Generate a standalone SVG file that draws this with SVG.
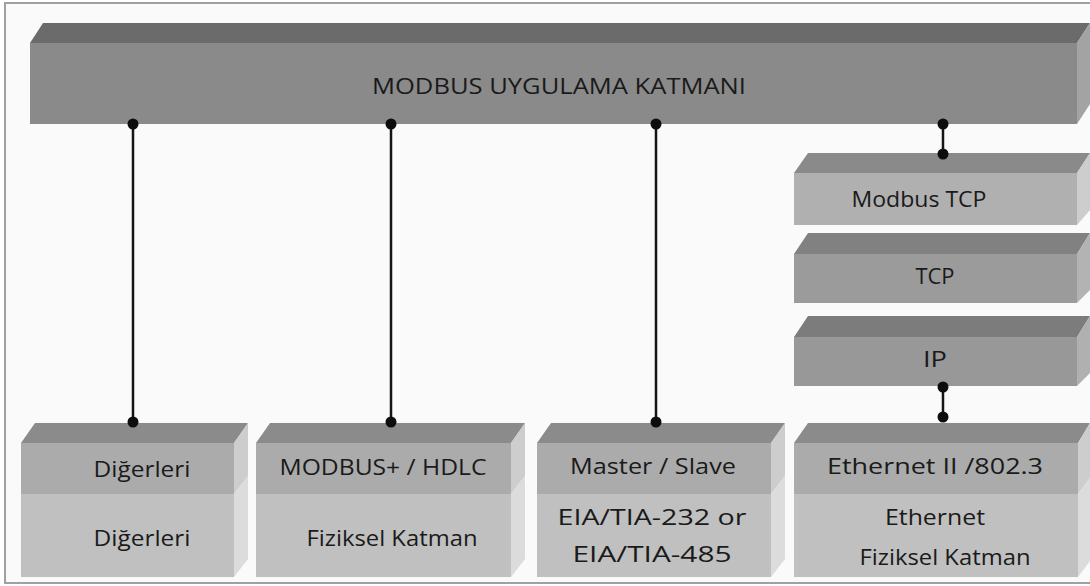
<svg xmlns="http://www.w3.org/2000/svg" width="1090" height="586" viewBox="0 0 1090 586">
  <style>
    .lbl { font-family: "Open Sans", "DejaVu Sans", sans-serif; font-size: 21px; fill: #1a1a1a; }
    .big { font-size: 22px; }
    .wire { stroke: #151515; stroke-width: 2.5; fill: none; }
    .dot { fill: #0d0d0d; }
    .bt { fill: #8b8b8b; }
    .bf1 { fill: #ababab; }
    .bf2 { fill: #c0c0c0; }
    .bs1 { fill: #cdcdcd; }
    .bs2 { fill: #dcdcdc; }
  </style>

  <!-- canvas and frame -->
  <rect x="0" y="0" width="1090" height="586" fill="#ffffff"/>
  <rect x="5" y="3" width="1095" height="580" fill="#fafafa" stroke="#a0a0a0" stroke-width="2"/>

  <!-- application layer bar -->
  <g id="app-layer">
    <polygon points="30,43 43,23 1090,23 1077,43" fill="#6b6b6b"/>
    <polygon points="1077,43 1090,23 1090,104 1077,124" fill="#a3a3a3"/>
    <rect x="30" y="43" width="1047" height="81" fill="#8a8a8a"/>
    <text class="lbl big" x="559" y="94" text-anchor="middle" textLength="374" lengthAdjust="spacingAndGlyphs">MODBUS UYGULAMA KATMANI</text>
  </g>

  <!-- TCP/IP stack -->
  <g id="modbus-tcp">
    <polygon points="794,173 808,153 1090,153 1077,173" fill="#8a8a8a"/>
    <polygon points="1077,173 1090,153 1090,210 1077,225" fill="#cdcdcd"/>
    <rect x="794" y="173" width="283" height="52" fill="#b0b0b0"/>
    <text class="lbl" x="919" y="207" text-anchor="middle" textLength="135" lengthAdjust="spacingAndGlyphs">Modbus TCP</text>
  </g>
  <g id="tcp">
    <polygon points="794,254 808,233 1090,233 1077,254" fill="#818181"/>
    <polygon points="1077,254 1090,233 1090,290 1077,303" fill="#b3b3b3"/>
    <rect x="794" y="254" width="283" height="49" fill="#9b9b9b"/>
    <text class="lbl" x="935" y="284" text-anchor="middle" textLength="39" lengthAdjust="spacingAndGlyphs">TCP</text>
  </g>
  <g id="ip">
    <polygon points="794,337 808,316 1090,316 1077,337" fill="#7c7c7c"/>
    <polygon points="1077,337 1090,316 1090,373 1077,386" fill="#b0b0b0"/>
    <rect x="794" y="337" width="283" height="49" fill="#989898"/>
    <text class="lbl" x="935" y="367" text-anchor="middle" textLength="24" lengthAdjust="spacingAndGlyphs">IP</text>
  </g>

  <!-- bottom protocol blocks -->
  <g id="others">
    <polygon class="bt" points="21,443 35,423 248,423 234,443"/>
    <polygon class="bs1" points="234,443 248,423 248,476 234,494"/>
    <polygon class="bs2" points="234,494 248,476 248,559 234,577"/>
    <rect class="bf1" x="21" y="443" width="213" height="51"/>
    <rect class="bf2" x="21" y="494" width="213" height="83"/>
    <text class="lbl" x="142" y="477" text-anchor="middle" textLength="97" lengthAdjust="spacingAndGlyphs">Diğerleri</text>
    <text class="lbl" x="142" y="546" text-anchor="middle" textLength="97" lengthAdjust="spacingAndGlyphs">Diğerleri</text>
  </g>
  <g id="modbus-plus">
    <polygon class="bt" points="256,443 270,423 525,423 511,443"/>
    <polygon class="bs1" points="511,443 525,423 525,476 511,494"/>
    <polygon class="bs2" points="511,494 525,476 525,559 511,577"/>
    <rect class="bf1" x="256" y="443" width="255" height="51"/>
    <rect class="bf2" x="256" y="494" width="255" height="83"/>
    <text class="lbl" x="383" y="475" text-anchor="middle" textLength="207" lengthAdjust="spacingAndGlyphs">MODBUS+ / HDLC</text>
    <text class="lbl" x="392" y="546" text-anchor="middle" textLength="171" lengthAdjust="spacingAndGlyphs">Fiziksel Katman</text>
  </g>
  <g id="serial">
    <polygon class="bt" points="537,443 551,423 785,423 771,443"/>
    <polygon class="bs1" points="771,443 785,423 785,476 771,494"/>
    <polygon class="bs2" points="771,494 785,476 785,559 771,577"/>
    <rect class="bf1" x="537" y="443" width="234" height="51"/>
    <rect class="bf2" x="537" y="494" width="234" height="83"/>
    <text class="lbl" x="653" y="474" text-anchor="middle" textLength="166" lengthAdjust="spacingAndGlyphs">Master / Slave</text>
    <text class="lbl" x="652" y="525" text-anchor="middle" textLength="189" lengthAdjust="spacingAndGlyphs">EIA/TIA-232 or</text>
    <text class="lbl" x="652" y="562" text-anchor="middle" textLength="159" lengthAdjust="spacingAndGlyphs">EIA/TIA-485</text>
  </g>
  <g id="ethernet">
    <polygon class="bt" points="794,443 808,423 1090,423 1078,443"/>
    <polygon class="bs1" points="1078,443 1090,423 1090,478 1078,494"/>
    <polygon class="bs2" points="1078,494 1090,478 1090,561 1078,577"/>
    <rect class="bf1" x="794" y="443" width="284" height="51"/>
    <rect class="bf2" x="794" y="494" width="284" height="83"/>
    <text class="lbl" x="935" y="474" text-anchor="middle" textLength="216" lengthAdjust="spacingAndGlyphs">Ethernet II /802.3</text>
    <text class="lbl" x="935" y="525" text-anchor="middle" textLength="100" lengthAdjust="spacingAndGlyphs">Ethernet</text>
    <text class="lbl" x="945" y="565" text-anchor="middle" textLength="171" lengthAdjust="spacingAndGlyphs">Fiziksel Katman</text>
  </g>

  <!-- connectors -->
  <g id="connectors">
    <line class="wire" x1="133" y1="124" x2="133" y2="422"/>
    <line class="wire" x1="391" y1="124" x2="391" y2="422"/>
    <line class="wire" x1="656" y1="124" x2="656" y2="422"/>
    <line class="wire" x1="943" y1="124" x2="943" y2="154"/>
    <line class="wire" x1="943" y1="387" x2="943" y2="417"/>
    <circle class="dot" cx="133" cy="124" r="5.5"/>
    <circle class="dot" cx="133" cy="422" r="5.5"/>
    <circle class="dot" cx="391" cy="124" r="5.5"/>
    <circle class="dot" cx="391" cy="422" r="5.5"/>
    <circle class="dot" cx="656" cy="124" r="5.5"/>
    <circle class="dot" cx="656" cy="422" r="5.5"/>
    <circle class="dot" cx="943" cy="124" r="5.5"/>
    <circle class="dot" cx="943" cy="154" r="5.5"/>
    <circle class="dot" cx="943" cy="387" r="5.5"/>
    <circle class="dot" cx="943" cy="417" r="5.5"/>
  </g>
</svg>
